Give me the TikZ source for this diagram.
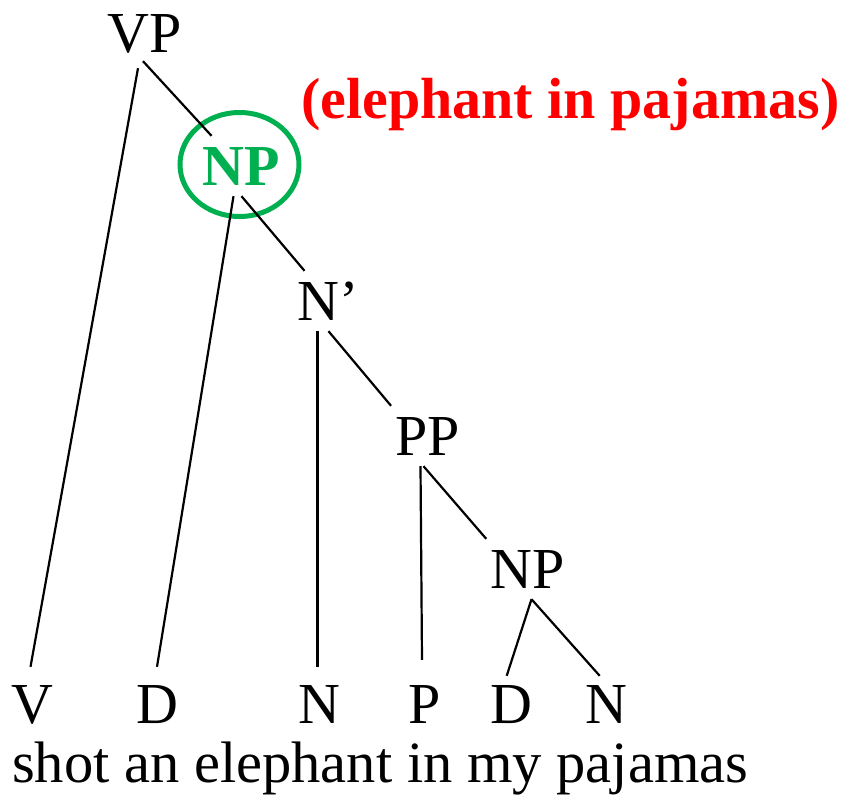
\documentclass[tikz,border=0pt]{standalone}
\usepackage{fontspec}
\setmainfont{Liberation Serif}
\usepackage{tikz}
\usetikzlibrary{calc}
\usetikzlibrary{positioning}

\definecolor{ringgreen}{RGB}{0,176,80}

\begin{document}
\begin{tikzpicture}[x=1pt, y=-1pt,
    cat/.style={font=\fontsize{58}{60}\selectfont, anchor=base, text height=38pt, text depth=0pt, inner xsep=4pt, inner ysep=11pt},
    leaf/.style={cat, inner ysep=18pt},
    focus/.style={cat, font=\fontsize{58}{60}\selectfont\bfseries, text=ringgreen},
    branch/.style={line width=2.2pt},
    ring/.style={draw=ringgreen, line width=5pt}]
    \useasboundingbox (0,0) rectangle (847,804);
    \node [cat] (vp) at (145,52) {VP};
    \node [focus] (np) at ($(vp.base)+(96.5,133)$) {NP};
    \node [cat] (nbar) at ($(np.base)+(87,135)$) {N’};
    \node [cat] (pp) at ($(nbar.base)+(99,135)$) {PP};
    \node [cat] (np2) at ($(pp.base)+(100,133)$) {NP};
    % leaves on one row
    \node [leaf] (v) at (32.5,723) {V};
    \node [leaf] (d) at (157,723) {D};
    \node [leaf] (n) at (319,723) {N};
    \node [leaf] (p) at (425,723) {P};
    \node [leaf] (d2) at (511.7,723) {D};
    \node [leaf] (n2) at (606.7,723) {N};
    \node [anchor=base west, inner sep=0pt, font=\fontsize{58.5}{60}\selectfont] (words) at (12,782) {shot an elephant in my pajamas};
    \node [anchor=base west, inner sep=0pt, font=\fontsize{58}{60}\selectfont\bfseries, text=red] (gloss) at (301,118) {(elephant in pajamas)};
    \draw [ring] ([xshift=-2pt,yshift=1.5pt]np.center) ellipse [x radius=59.5pt, y radius=52pt];
    \draw [branch] ([xshift=-7pt,yshift=-5pt]vp.south) -- ([xshift=-2pt]v.north);
    \draw [branch] ([xshift=-2pt,yshift=2pt]vp.south) -- ([xshift=-30pt]np.north);
    \draw [branch] ([xshift=-8pt]np.south) -- (d.north);
    \draw [branch] (np.south) -- ([xshift=-24pt]nbar.north);
    \draw [branch] ([xshift=-11pt]nbar.south) -- ([xshift=-1.5pt]n.north);
    \draw [branch] (nbar.south) -- (pp.north west);
    \draw [branch] ([xshift=-7pt]pp.south) -- ([xshift=-3pt,yshift=7pt]p.north);
    \draw [branch] ([xshift=-4pt]pp.south) -- (np2.north west);
    \draw [branch] ([xshift=4pt]np2.south) -- ([xshift=-5pt,yshift=-9pt]d2.north);
    \draw [branch] ([xshift=4pt]np2.south) -- ([xshift=-7pt,yshift=-9pt]n2.north);
\end{tikzpicture}
\end{document}
